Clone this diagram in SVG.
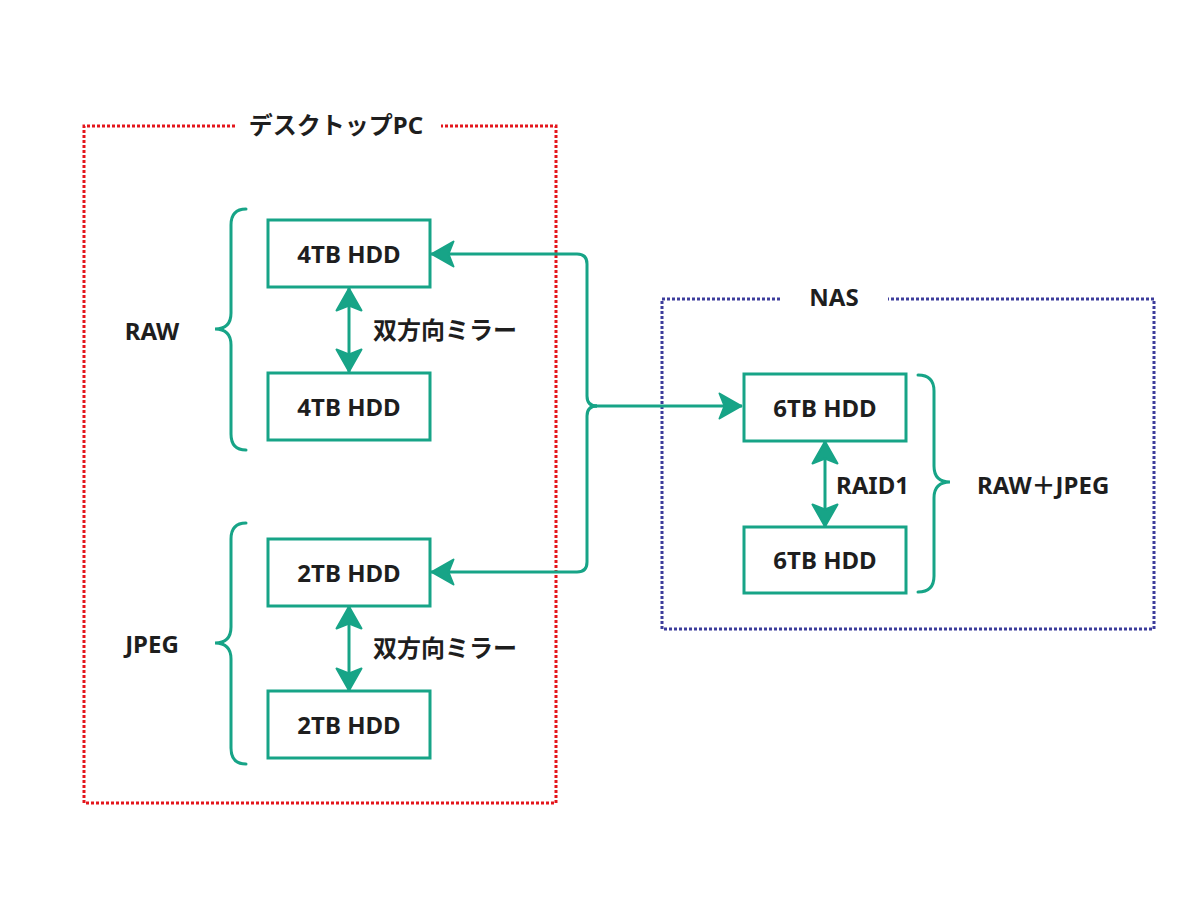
<svg xmlns="http://www.w3.org/2000/svg" width="1200" height="908" viewBox="0 0 1200 908">
<style>
  .box{fill:#fff;stroke:#17a487;stroke-width:3}
  .conn{fill:none;stroke:#17a487;stroke-width:3}
  .brace{fill:none;stroke:#17a487;stroke-width:3;stroke-linecap:round}
  .lbl{font-family:"Noto Sans","Noto Sans CJK JP",sans-serif;font-weight:bold;font-size:24px;fill:#1e1e1e;dominant-baseline:central}
  .c{text-anchor:middle}
  .grpred{fill:none;stroke:#e4161c;stroke-width:3;stroke-dasharray:3 2}
  .grpblue{fill:none;stroke:#3d3d9c;stroke-width:3;stroke-dasharray:3 2}
</style>
<defs>
  <marker id="arr" viewBox="0 0 25 28" refX="24" refY="14" markerWidth="25" markerHeight="28" markerUnits="userSpaceOnUse" orient="auto-start-reverse">
    <path d="M1.5,1.5 L23.5,14 L1.5,26.5 L6.5,14 Z" fill="#17a487" stroke="#17a487" stroke-width="2" stroke-linejoin="round"/>
  </marker>
</defs>
<rect width="1200" height="908" fill="#fff"/>

<g id="group-pc">
  <path class="grpred" d="M235,126 H84 V803 H556 V126 H441"/>
  <text class="lbl c" x="336" y="124">デスクトップPC</text>
</g>
<g id="group-nas">
  <path class="grpblue" d="M780,299 H662 V629 H1154 V299 H888"/>
  <text class="lbl c" x="834" y="296">NAS</text>
</g>

<g id="connectors">
  <path class="conn" d="M597,406 Q587,406 587,396 V264 Q587,254 577,254 H431" marker-end="url(#arr)"/>
  <path class="conn" d="M597,406 Q587,406 587,416 V562 Q587,572 577,572 H431" marker-end="url(#arr)"/>
  <path class="conn" d="M590,406 H742" marker-end="url(#arr)"/>
  <path class="conn" d="M349,288 V372" marker-start="url(#arr)" marker-end="url(#arr)"/>
  <path class="conn" d="M349,606 V691" marker-start="url(#arr)" marker-end="url(#arr)"/>
  <path class="conn" d="M825,441 V527" marker-start="url(#arr)" marker-end="url(#arr)"/>
</g>

<g id="brace-raw">
  <path class="brace" d="M246,209 Q231,209 231,225 V313 Q231,329 215,329 Q231,329 231,345 V434 Q231,450 246,450"/>
  <text class="lbl c" x="152" y="330">RAW</text>
</g>
<g id="brace-jpeg">
  <path class="brace" d="M246,523 Q231,523 231,539 V627 Q231,643 215,643 Q231,643 231,659 V748 Q231,764 246,764"/>
  <text class="lbl c" x="152" y="643">JPEG</text>
</g>
<g id="brace-nas">
  <path class="brace" d="M918,375 Q934,375 934,391 V466 Q934,482 950,482 Q934,482 934,498 V576 Q934,592 918,592"/>
  <text class="lbl" x="977" y="484">RAW＋JPEG</text>
</g>

<g id="hdd4a"><rect class="box" x="268" y="220" width="162" height="67"/><text class="lbl c" x="349" y="253">4TB HDD</text></g>
<g id="hdd4b"><rect class="box" x="268" y="373" width="162" height="67"/><text class="lbl c" x="349" y="406">4TB HDD</text></g>
<g id="hdd2a"><rect class="box" x="268" y="539" width="162" height="67"/><text class="lbl c" x="349" y="572">2TB HDD</text></g>
<g id="hdd2b"><rect class="box" x="268" y="691" width="162" height="67"/><text class="lbl c" x="349" y="724">2TB HDD</text></g>
<g id="hdd6a"><rect class="box" x="744" y="374" width="162" height="67"/><text class="lbl c" x="825" y="407">6TB HDD</text></g>
<g id="hdd6b"><rect class="box" x="744" y="527" width="162" height="66"/><text class="lbl c" x="825" y="559">6TB HDD</text></g>

<g id="labels">
  <text class="lbl" x="373" y="329">双方向ミラー</text>
  <text class="lbl" x="373" y="647">双方向ミラー</text>
  <text class="lbl" x="836" y="484">RAID1</text>
</g>
</svg>
